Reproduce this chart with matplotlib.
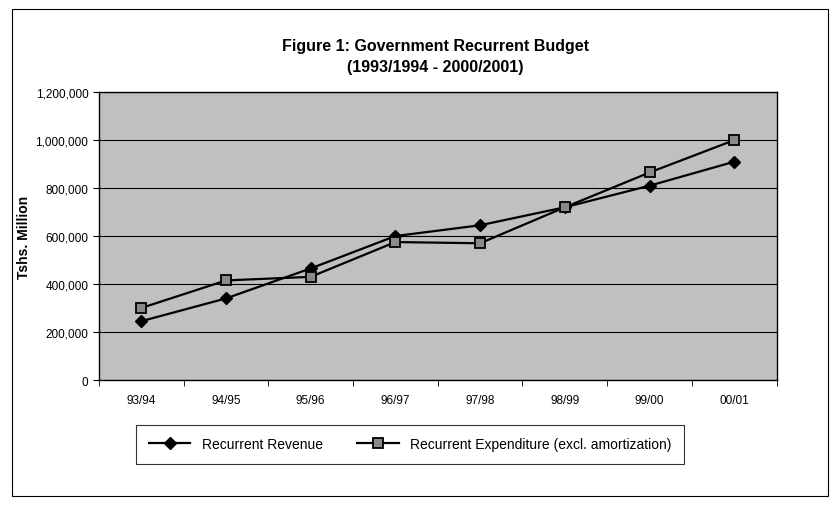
import matplotlib
matplotlib.use("Agg")
import matplotlib.pyplot as plt
from matplotlib.patches import Rectangle
from matplotlib.ticker import FuncFormatter, FixedLocator
import numpy as np

years = ["93/94", "94/95", "95/96", "96/97", "97/98", "98/99", "99/00", "00/01"]
revenue = [245000, 340000, 465000, 600000, 645000, 720000, 810000, 910000]
expenditure = [300000, 415000, 430000, 575000, 570000, 720000, 865000, 1000000]

plt.rcParams['font.family'] = ['Liberation Sans', 'DejaVu Sans']

fig = plt.figure(figsize=(8.37, 5.06), dpi=100)
ax = fig.add_axes([0.118, 0.247, 0.81, 0.569])

x = np.arange(len(years))
ax.set_facecolor('#c0c0c0')
ax.plot(x, revenue, color='black', linewidth=1.6, marker='D', markersize=6,
        markerfacecolor='black', markeredgecolor='black', label='Recurrent Revenue')
ax.plot(x, expenditure, color='black', linewidth=1.6, marker='s', markersize=7,
        markerfacecolor='#8a8a8a', markeredgecolor='black', markeredgewidth=1.3,
        label='Recurrent Expenditure (excl. amortization)')

ax.set_xlim(-0.5, len(years) - 0.5)
ax.set_ylim(0, 1200000)
ax.set_yticks(np.arange(0, 1200001, 200000))
ax.yaxis.set_major_formatter(FuncFormatter(lambda v, p: f"{int(v):,}"))
ax.grid(axis='y', color='black', linewidth=0.8)
ax.set_axisbelow(True)

ax.set_xticks(x)
ax.set_xticklabels(years)
ax.xaxis.set_minor_locator(FixedLocator(np.arange(-0.5, len(years), 1.0)))
ax.tick_params(axis='x', which='major', length=0, labelsize=8.5, pad=10)
ax.tick_params(axis='x', which='minor', length=4, direction='out')
ax.tick_params(axis='y', labelsize=8.5, length=4, direction='out')

for s in ax.spines.values():
    s.set_linewidth(1.0)
    s.set_color('black')

ax.set_ylabel("Tshs. Million", fontsize=10, fontweight='bold')
ax.yaxis.set_label_coords(-0.1, 0.5)

fig.text(0.52, 0.9, "Figure 1: Government Recurrent Budget", ha='center',
         fontsize=11.5, fontweight='bold')
fig.text(0.52, 0.858, "(1993/1994 - 2000/2001)", ha='center',
         fontsize=11.5, fontweight='bold')

leg = fig.legend(loc='center', bbox_to_anchor=(0.49, 0.12), ncol=2, fontsize=10,
                 frameon=True, fancybox=False, edgecolor='black',
                 handlelength=3, columnspacing=2.5, borderpad=0.9)
leg.get_frame().set_linewidth(0.8)

fig.patches.append(Rectangle((0.014, 0.018), 0.975, 0.962, transform=fig.transFigure,
                             fill=False, edgecolor='black', linewidth=0.8))

fig.savefig("out.png", dpi=100)
